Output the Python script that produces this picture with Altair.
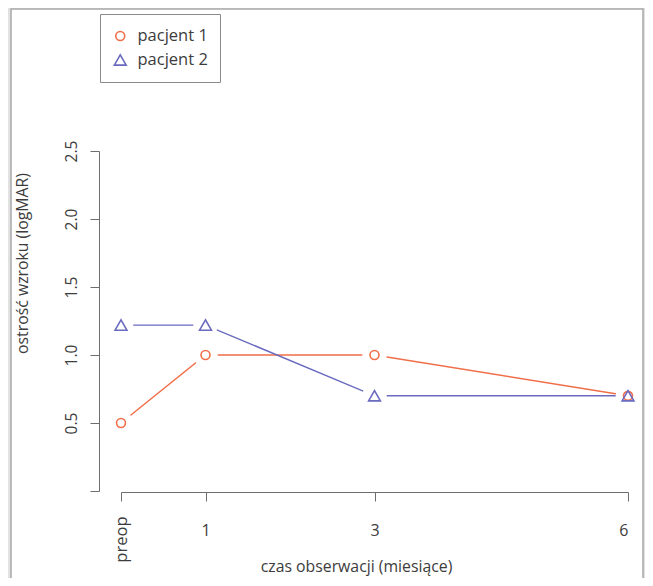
import altair as alt
import pandas as pd

# data
time_points = [0, 1, 3, 6]
patient1 = [0.50, 1.00, 1.00, 0.70]
patient2 = [1.22, 1.22, 0.70, 0.70]
series_names = ["pacjent 1", "pacjent 2"]
y_ticks = [0, 0.5, 1.0, 1.5, 2.0, 2.5]
x_ticks = [0, 1, 3, 6]

ORANGE = "#F06E48"
BLUE = "#6A6ABF"
AXIS = "#6e6e6e"
TEXT = "#3c3c3c"
FONT = "Open Sans"

rows = []
for t, v in zip(time_points, patient1):
    rows.append({"czas": t, "wartosc": v, "seria": series_names[0]})
for t, v in zip(time_points, patient2):
    rows.append({"czas": t, "wartosc": v, "seria": series_names[1]})
df = pd.DataFrame(rows)

W, H = 507, 340
PAD_L, PAD_T = 113, 143
TOTAL_W, TOTAL_H = 637, 570

xscale = alt.Scale(domain=[0, 6], nice=False, zero=False)
yscale = alt.Scale(domain=[0, 2.5], nice=False, zero=False)
cscale = alt.Scale(domain=series_names, range=[ORANGE, BLUE])
sscale = alt.Scale(domain=series_names, range=["circle", "triangle-up"])
zscale = alt.Scale(domain=series_names, range=[80, 140])

x_axis = alt.Axis(
    orient="bottom", values=x_ticks, labelExpr="datum.value == 0 ? '' : datum.label",
    offset=1, tickSize=9, grid=False, domainColor=AXIS, tickColor=AXIS, zindex=2,
    labelColor=TEXT, labelFont=FONT, labelFontSize=16, labelPadding=21,
    title="czas obserwacji (miesiące)", titleFont=FONT, titleFontSize=15.8,
    titleFontWeight="normal", titleColor=TEXT, titleX=235, titleY=74,
    titleAlign="center", titleBaseline="middle", titleAnchor="start",
)
y_axis = alt.Axis(
    values=y_ticks, labelExpr="datum.value == 0 ? '' : format(datum.value, '.1f')",
    offset=22, tickSize=9, grid=False, domainColor=AXIS, tickColor=AXIS, zindex=2,
    labelColor=TEXT, labelFont=FONT, labelFontSize=15.5, labelAngle=270,
    labelAlign="center", labelBaseline="bottom", labelPadding=11,
    title="ostrość wzroku (logMAR)", titleFont=FONT, titleFontSize=15.8,
    titleFontWeight="normal", titleColor=TEXT, titleX=-77, titleY=112,
    titleAngle=270, titleAlign="center", titleBaseline="middle", titleAnchor="start",
)

base = alt.Chart(df)

frame = alt.Chart(pd.DataFrame({"k": [0]})).mark_rect(
    fill="white", stroke="#a9a9a9", strokeWidth=1.5
).encode(
    x=alt.value(-110), x2=alt.value(522), y=alt.value(-142), y2=alt.value(600)
)

lines = base.mark_line(strokeWidth=1.4).encode(
    x=alt.X("czas:Q", scale=xscale, axis=x_axis),
    y=alt.Y("wartosc:Q", scale=yscale, axis=y_axis),
    color=alt.Color("seria:N", scale=cscale),
    detail="seria:N",
)

halo = base.mark_point(filled=True, shape="circle", size=600, opacity=1, strokeWidth=0).encode(
    x=alt.X("czas:Q", scale=xscale),
    y=alt.Y("wartosc:Q", scale=yscale),
    fill=alt.value("white"),
)

legend = alt.Legend(
    title=None, orient="none", legendX=-21, legendY=-137, fillColor="white",
    strokeColor="#8a8a8a", padding=12, rowPadding=4, clipHeight=20, labelFont=FONT,
    labelFontSize=16.5, labelColor=TEXT, symbolStrokeWidth=1.6, symbolSize=100,
    labelOffset=9, zindex=3,
)

points = base.mark_point(filled=False, strokeWidth=1.6, opacity=1).encode(
    x=alt.X("czas:Q", scale=xscale),
    y=alt.Y("wartosc:Q", scale=yscale),
    color=alt.Color("seria:N", scale=cscale, legend=legend),
    shape=alt.Shape("seria:N", scale=sscale, legend=legend),
    size=alt.Size("seria:N", scale=zscale, legend=None),
)

preop = alt.Chart(pd.DataFrame({"czas": [0]})).mark_point(opacity=0).encode(
    x=alt.X("czas:Q", scale=xscale, axis=alt.Axis(
        orient="bottom", values=[0], labelExpr="'preop'", domain=False, ticks=False,
        offset=1, grid=False, labelAngle=270, labelAlign="right", labelBaseline="middle",
        labelPadding=24, labelColor=TEXT, labelFont=FONT, labelFontSize=16.5, title=None,
        zindex=2,
    )),
    y=alt.value(0),
)

chart = alt.layer(frame, lines, halo, points, preop).resolve_axis(x="independent").properties(
    width=W, height=H,
    autosize=alt.AutoSizeParams(type="none"),
    padding={"left": PAD_L, "top": PAD_T, "right": TOTAL_W - PAD_L - W, "bottom": TOTAL_H - PAD_T - H},
    background="#e2e2e2",
).configure_view(stroke=None)

chart.save("out.html", embed_options={"renderer": "svg", "actions": False})
